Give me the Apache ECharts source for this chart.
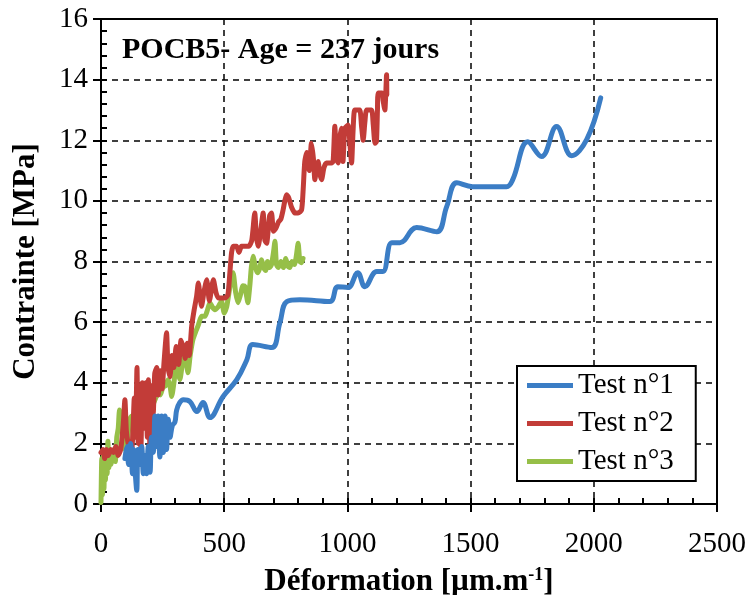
<!DOCTYPE html>
<html>
<head>
<meta charset="utf-8">
<script src="https://cdn.jsdelivr.net/npm/echarts@6/dist/echarts.min.js"></script>
<style>
  html, body { margin: 0; padding: 0; background: #fff; }
  #chart { width: 751px; height: 595px; }
</style>
</head>
<body>
<div id="chart"></div>
<script>
// Déformation (µm/m) vs contrainte (MPa), three compression tests
const chartTitle = 'POCB5- Age = 237 jours';
const seriesNames = ['Test n°1', 'Test n°2', 'Test n°3'];
const seriesColors = ['#3b7dc5', '#c23c38', '#96bf48'];

const test1 = [
  [97,1.5],[105,1.9],[112,1.3],[120,2.0],[128,1.0],[133,1.8],[140,0.9],[145,0.45],[150,1.8],
  [158,1.3],[165,1.9],[172,1.0],[178,1.6],[185,1.0],[192,1.9],[199,1.05],[205,2.2],[212,1.7],
  [219,2.9],[225,1.9],[232,2.9],[239,1.55],[246,2.9],[253,1.7],[260,2.9],[266,1.8],[273,2.8],
  [280,2.2],[290,2.6],[300,2.7],[307,3.1],[320,3.35],[334,3.44],[361,3.38],[389,3.05],[414,3.35],
  [442,2.85],[495,3.54],[551,4.1],[592,4.76],[616,5.26],[693,5.16],[726,5.98],[754,6.68],
  [807,6.74],[929,6.68],[961,7.17],[1002,7.14],[1042,7.63],[1071,7.17],[1119,7.67],[1144,7.67],
  [1180,8.62],[1213,8.62],[1281,9.12],[1363,8.98],[1403,9.81],[1444,10.6],[1508,10.47],
  [1646,10.47],[1671,10.7],[1732,11.95],[1788,11.46],[1849,12.45],[1910,11.49],[1971,12.02],
  [2028,13.4]
];

const test2 = [
  [0,1.7],[8,1.8],[15,1.5],[22,1.8],[30,1.6],[40,1.8],[50,1.7],[60,1.9],[70,1.6],[80,1.8],
  [90,2.6],[97,3.44],[103,2.4],[110,2.0],[117,1.8],[124,1.7],[130,2.5],[135,3.5],[140,2.2],
  [146,4.5],[151,2.0],[156,3.8],[162,1.8],[168,4.0],[175,2.5],[182,4.0],[188,2.2],[192,4.1],
  [199,1.8],[205,3.9],[212,3.0],[218,4.3],[226,4.5],[232,3.6],[240,4.4],[248,3.8],[256,4.7],
  [266,5.65],[272,4.5],[280,4.2],[288,4.9],[296,4.5],[305,5.2],[315,4.6],[325,5.4],[334,5.15],
  [342,4.8],[350,5.3],[358,4.9],[368,5.86],[378,6.4],[388,6.85],[395,7.29],[408,6.52],[418,7.0],
  [429,7.4],[440,6.7],[456,7.4],[466,7.0],[476,6.8],[503,6.8],[515,6.9],[523,7.63],[530,8.3],
  [537,8.5],[550,8.5],[560,8.3],[570,8.5],[584,8.5],[600,8.5],[612,8.7],[624,9.6],[631,8.8],
  [638,8.5],[648,9.0],[658,9.6],[665,8.7],[672,8.6],[684,9.5],[692,9.6],[700,9.0],[710,9.1],
  [720,9.3],[730,9.4],[739,9.7],[746,10.0],[753,10.2],[762,10.1],[773,9.8],[787,9.6],[800,9.6],
  [814,9.7],[820,10.3],[827,11.3],[835,11.6],[845,11.0],[854,11.9],[862,11.4],[868,10.7],
  [875,11.1],[881,11.3],[888,10.9],[895,10.7],[905,11.1],[915,11.25],[935,11.25],[942,11.3],
  [949,12.46],[955,11.5],[962,11.25],[968,12.0],[975,12.4],[982,11.3],[990,12.4],[1003,12.5],
  [1010,11.9],[1017,11.25],[1023,12.3],[1030,13.0],[1050,13.0],[1057,12.5],[1064,12.0],
  [1071,12.6],[1078,13.0],[1098,13.0],[1105,12.5],[1112,11.9],[1118,11.96],[1122,13.0],
  [1125,13.56],[1140,13.56],[1145,13.3],[1152,13.0],[1155,13.4],[1159,14.16],[1160,13.5]
];

const test3 = [
  [0,0.05],[3,1.5],[6,0.3],[9,1.6],[12,0.5],[15,1.5],[18,0.8],[21,1.6],[25,1.0],[28,2.07],
  [32,1.2],[36,1.6],[40,1.3],[46,1.6],[52,1.8],[58,1.4],[64,2.2],[70,2.5],[75,3.1],[80,2.8],
  [85,2.6],[92,2.2],[98,1.8],[104,1.9],[110,2.3],[117,2.8],[124,2.9],[131,2.6],[138,2.56],
  [145,2.9],[151,3.1],[160,2.8],[170,3.0],[180,3.05],[190,3.1],[200,3.2],[211,3.28],[222,3.5],
  [232,3.67],[241,3.6],[251,3.85],[262,3.9],[272,4.1],[280,3.9],[287,3.55],[296,4.0],[307,4.66],
  [314,4.3],[320,4.1],[330,4.6],[340,4.93],[347,4.6],[353,4.33],[362,4.9],[373,5.42],[385,5.7],
  [395,5.9],[408,6.19],[422,6.19],[432,6.4],[442,6.64],[452,6.5],[462,6.41],[475,6.5],[489,6.69],
  [500,6.3],[510,6.5],[520,7.0],[528,7.4],[536,7.63],[546,7.0],[556,6.64],[566,6.9],[576,7.2],
  [584,7.18],[590,6.9],[596,6.64],[604,7.2],[610,7.8],[617,8.17],[625,7.9],[631,7.7],[637,7.63],
  [645,7.8],[652,8.06],[660,7.8],[668,7.7],[676,8.0],[684,7.8],[692,7.9],[700,8.3],[706,8.67],
  [712,7.9],[720,7.8],[730,8.0],[740,7.8],[750,8.1],[758,7.85],[766,7.8],[775,8.0],[785,7.9],
  [793,8.2],[800,8.6],[807,8.0],[814,7.96],[820,8.1]
];

const xRange = { min: 0, max: 2500, major: 500, minor: 100 };
const yRange = { min: 0, max: 16, major: 2, minor: 0.4 };

const serif = '"Liberation Serif", "Times New Roman", serif';

const chart = echarts.init(document.getElementById('chart'), null, { renderer: 'canvas' });

const mainAxisCommon = {
  axisLine: { show: true, onZero: false, lineStyle: { color: '#000', width: 2 } },
  axisTick: { show: true, inside: false, length: 8, lineStyle: { color: '#000', width: 2 } },
  splitLine: { show: true, lineStyle: { color: '#000', width: 1.5, type: [6, 5] } }
};

const minorAxisCommon = {
  axisLine: { show: false },
  axisTick: { show: true, inside: true, length: 6, lineStyle: { color: '#000', width: 2 } },
  splitLine: { show: false },
  axisLabel: { show: false }
};

const labelStyle = {
  color: '#000', fontFamily: serif, fontSize: 29, margin: 14,
  formatter: v => String(v)
};
const nameStyle = { color: '#000', fontFamily: serif, fontSize: 31, fontWeight: 'bold' };

const option = {
  backgroundColor: '#fff',
  animation: false,
  title: {
    text: chartTitle,
    left: 117, top: 30,
    textStyle: { fontFamily: serif, fontSize: 30, fontWeight: 'bold', color: '#000' }
  },
  grid: {
    left: 101, right: 34, top: 19, bottom: 91,
    outerBoundsMode: 'none', containLabel: false,
    show: true, borderColor: '#000', borderWidth: 2, backgroundColor: 'transparent'
  },
  legend: {
    data: seriesNames,
    orient: 'vertical',
    left: 517, top: 366,
    backgroundColor: '#fff',
    borderColor: '#000', borderWidth: 2,
    padding: [5, 22, 5, 10],
    itemGap: 9,
    itemWidth: 46, itemHeight: 5,
    icon: 'rect',
    textStyle: { fontFamily: serif, fontSize: 29, color: '#000' }
  },
  xAxis: [
    Object.assign({
      type: 'value', position: 'bottom',
      min: xRange.min, max: xRange.max, interval: xRange.major,
      name: 'Déformation [µm.m{sup|-1}]',
      nameLocation: 'middle', nameGap: 62,
      nameTextStyle: Object.assign({}, nameStyle, {
        rich: { sup: { fontFamily: serif, fontSize: 18, fontWeight: 'bold', verticalAlign: 'top', padding: [0, 0, 14, 0] } }
      }),
      axisLabel: Object.assign({}, labelStyle, { margin: 26 })
    }, mainAxisCommon),
    Object.assign({
      type: 'value', position: 'bottom', offset: 0,
      min: xRange.min, max: xRange.max, interval: xRange.minor
    }, minorAxisCommon)
  ],
  yAxis: [
    Object.assign({
      type: 'value', position: 'left',
      min: yRange.min, max: yRange.max, interval: yRange.major,
      name: 'Contrainte [MPa]',
      nameLocation: 'middle', nameGap: 60,
      nameTextStyle: nameStyle,
      axisLabel: Object.assign({}, labelStyle, { margin: 13 })
    }, mainAxisCommon),
    Object.assign({
      type: 'value', position: 'left', offset: 0,
      min: yRange.min, max: yRange.max, interval: yRange.minor
    }, minorAxisCommon)
  ],
  series: [test1, test2, test3].map((d, i) => ({
    name: seriesNames[i],
    type: 'line',
    data: d,
    xAxisIndex: 0, yAxisIndex: 0,
    showSymbol: false,
    smooth: i === 0 ? 0.4 : 0.2,
    color: seriesColors[i],
    lineStyle: { width: 5, color: seriesColors[i], cap: 'round', join: 'round' },
    z: 3 - i
  }))
};

chart.setOption(option);
</script>
</body>
</html>
